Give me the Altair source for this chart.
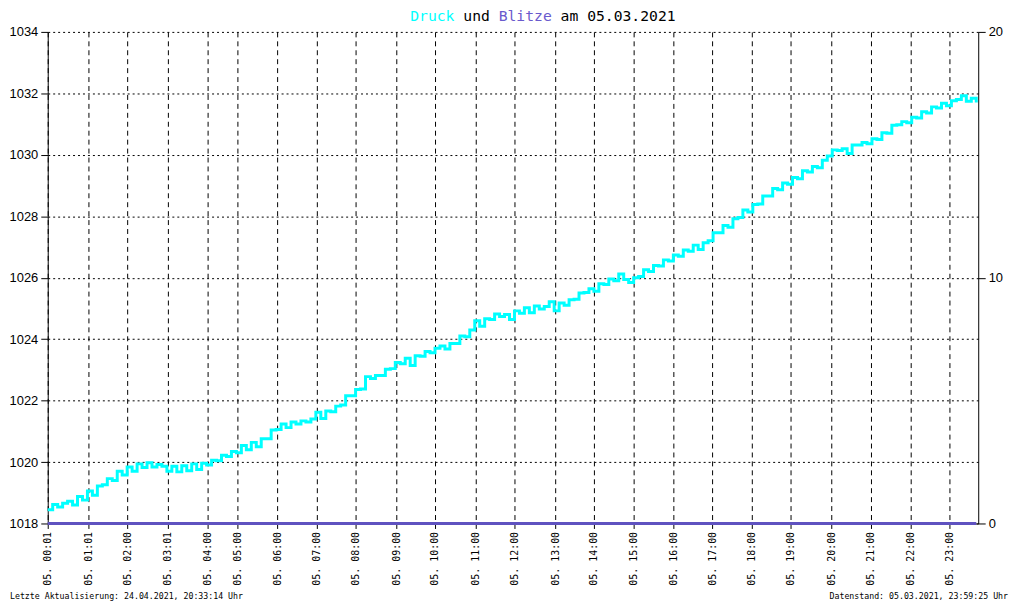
import altair as alt
import pandas as pd

# Druck (hPa), one reading every 5 sample positions
druck = [
    1018.45, 1018.62, 1018.54, 1018.66, 1018.72, 1018.60, 1018.88, 1018.76, 1019.06, 1018.92,
    1019.22, 1019.26, 1019.46, 1019.40, 1019.70, 1019.58, 1019.84, 1019.70, 1019.94, 1019.82,
    1019.98, 1019.84, 1019.92, 1019.86, 1019.70, 1019.86, 1019.68, 1019.88, 1019.72, 1019.94,
    1019.76, 1019.96, 1019.90, 1020.06, 1020.04, 1020.22, 1020.18, 1020.34, 1020.30, 1020.54,
    1020.40, 1020.64, 1020.50, 1020.76, 1020.76, 1021.04, 1021.06, 1021.24, 1021.12, 1021.30,
    1021.24, 1021.34, 1021.30, 1021.40, 1021.62, 1021.42, 1021.66, 1021.64, 1021.82, 1021.86,
    1022.16, 1022.16, 1022.36, 1022.38, 1022.78, 1022.72, 1022.82, 1022.82, 1023.02, 1023.04,
    1023.24, 1023.20, 1023.38, 1023.14, 1023.46, 1023.44, 1023.60, 1023.56, 1023.70, 1023.78,
    1023.68, 1023.86, 1023.86, 1024.10, 1024.08, 1024.30, 1024.60, 1024.42, 1024.66, 1024.64,
    1024.82, 1024.74, 1024.80, 1024.64, 1024.92, 1024.84, 1025.02, 1024.86, 1025.08, 1024.98,
    1025.06, 1025.22, 1024.92, 1025.18, 1025.10, 1025.28, 1025.30, 1025.50, 1025.52, 1025.64,
    1025.56, 1025.80, 1025.78, 1025.96, 1025.90, 1026.12, 1025.94, 1025.84, 1026.00, 1026.04,
    1026.26, 1026.20, 1026.40, 1026.38, 1026.58, 1026.54, 1026.74, 1026.70, 1026.90, 1026.86,
    1027.06, 1026.92, 1027.14, 1027.20, 1027.46, 1027.46, 1027.70, 1027.64, 1027.92, 1027.96,
    1028.20, 1028.14, 1028.38, 1028.40, 1028.66, 1028.66, 1028.90, 1028.86, 1029.08, 1029.04,
    1029.26, 1029.22, 1029.48, 1029.44, 1029.62, 1029.58, 1029.82, 1029.96, 1030.16, 1030.14,
    1030.20, 1030.04, 1030.32, 1030.32, 1030.40, 1030.36, 1030.52, 1030.50, 1030.72, 1030.70,
    1030.96, 1030.98, 1031.08, 1031.04, 1031.22, 1031.20, 1031.40, 1031.36, 1031.56, 1031.52,
    1031.68, 1031.60, 1031.76, 1031.80, 1031.92, 1031.74, 1031.84, 1031.70,
]
sample_step = 5
samples = [i * sample_step for i in range(len(druck))]

# Blitze (lightning count) - none on this day
blitze = [0 for _ in druck]

# x-axis tick positions (sample position) and their labels
tick_pos = [0, 41, 80, 121, 161, 191, 231, 271, 310, 351, 390, 431, 470, 511, 550, 590,
            630, 669, 709, 748, 789, 829, 869, 908]
tick_labels = ["05. 00:01", "05. 01:01", "05. 02:00", "05. 03:01", "05. 04:00", "05. 05:00",
               "05. 06:00", "05. 07:00", "05. 08:00", "05. 09:00", "05. 10:00", "05. 11:00",
               "05. 12:00", "05. 13:00", "05. 14:00", "05. 15:00", "05. 16:00", "05. 17:00",
               "05. 18:00", "05. 19:00", "05. 20:00", "05. 21:00", "05. 22:00", "05. 23:00"]
x_max = 937

druck_ticks = [1018, 1020, 1022, 1024, 1026, 1028, 1030, 1032, 1034]
blitz_ticks = [0, 10, 20]

df = pd.DataFrame({"pos": samples, "druck": druck, "blitze": blitze})

label_expr = ("[" + ",".join("'" + t + "'" for t in tick_labels) + "][indexof(["
              + ",".join(str(p) for p in tick_pos) + "], datum.value)]")

W, H = 937, 495
MONO = "DejaVu Sans Mono"
SANS = "Liberation Sans"

x_axis = alt.Axis(
    values=tick_pos, labelExpr=label_expr, labelAngle=270, grid=True,
    gridDash=[5, 4], gridColor="black", gridOpacity=1, gridWidth=1,
    tickSize=5, tickColor="black", domainColor="black", labelFont=MONO,
    labelFontSize=10, labelColor="black", labelPadding=3, labelFlush=False,
    labelOverlap=False, title=None,
)
x_scale = alt.Scale(domain=[0, x_max], nice=False, zero=False)

druck_line = alt.Chart(df).mark_line(
    color="#00ffff", strokeWidth=3, interpolate="step-after"
).encode(
    x=alt.X("pos:Q", scale=x_scale, axis=x_axis),
    y=alt.Y(
        "druck:Q",
        scale=alt.Scale(domain=[1018, 1034], nice=False, zero=False),
        axis=alt.Axis(
            values=druck_ticks, format="d", grid=True, gridDash=[2, 3],
            gridColor="black", gridOpacity=1, gridWidth=1, tickSize=7,
            tickColor="black", domainColor="black", labelFont=SANS,
            labelFontSize=13, labelColor="black", labelPadding=3, title=None,
        ),
    ),
)

blitz_line = alt.Chart(df).mark_line(color="#5f52c0", strokeWidth=3).encode(
    x=alt.X("pos:Q", scale=x_scale, axis=x_axis),
    y=alt.Y(
        "blitze:Q",
        scale=alt.Scale(domain=[0, 20], nice=False),
        axis=alt.Axis(
            orient="right", values=blitz_ticks, format="d", grid=False, tickSize=7,
            tickColor="black", domainColor="black", labelFont=SANS,
            labelFontSize=13, labelColor="black", labelPadding=3, title=None,
        ),
    ),
)

one = alt.Data(values=[{}])
cw = 0.602 * 14.8
tx0 = 365
title_parts = [
    ("Druck", 0, "#00ffff"),
    ("und", 6, "black"),
    ("Blitze", 10, "#6a5acd"),
    ("am 05.03.2021", 17, "black"),
]
texts = []
for txt, off, col in title_parts:
    texts.append(
        alt.Chart(one).mark_text(
            font=MONO, fontSize=14.8, align="left", baseline="alphabetic", color=col
        ).encode(x=alt.value(tx0 + off * cw), y=alt.value(-10.5), text=alt.value(txt))
    )

texts.append(
    alt.Chart(one).mark_text(
        font=MONO, fontSize=8.3, align="left", baseline="alphabetic", color="black"
    ).encode(x=alt.value(-38), y=alt.value(571),
             text=alt.value("Letzte Aktualisierung: 24.04.2021, 20:33:14 Uhr"))
)
texts.append(
    alt.Chart(one).mark_text(
        font=MONO, fontSize=8.3, align="right", baseline="alphabetic", color="black"
    ).encode(x=alt.value(967), y=alt.value(571),
             text=alt.value("Datenstand: 05.03.2021, 23:59:25 Uhr"))
)

chart = alt.layer(druck_line, blitz_line, *texts).resolve_scale(
    y="independent"
).properties(
    width=W, height=H,
    autosize=alt.AutoSizeParams(type="none"),
    padding={"left": 40, "top": 22, "right": 34, "bottom": 78},
    background="white",
).configure_view(stroke=None)

chart.save("out.html", embed_options={"renderer": "svg", "actions": False})
